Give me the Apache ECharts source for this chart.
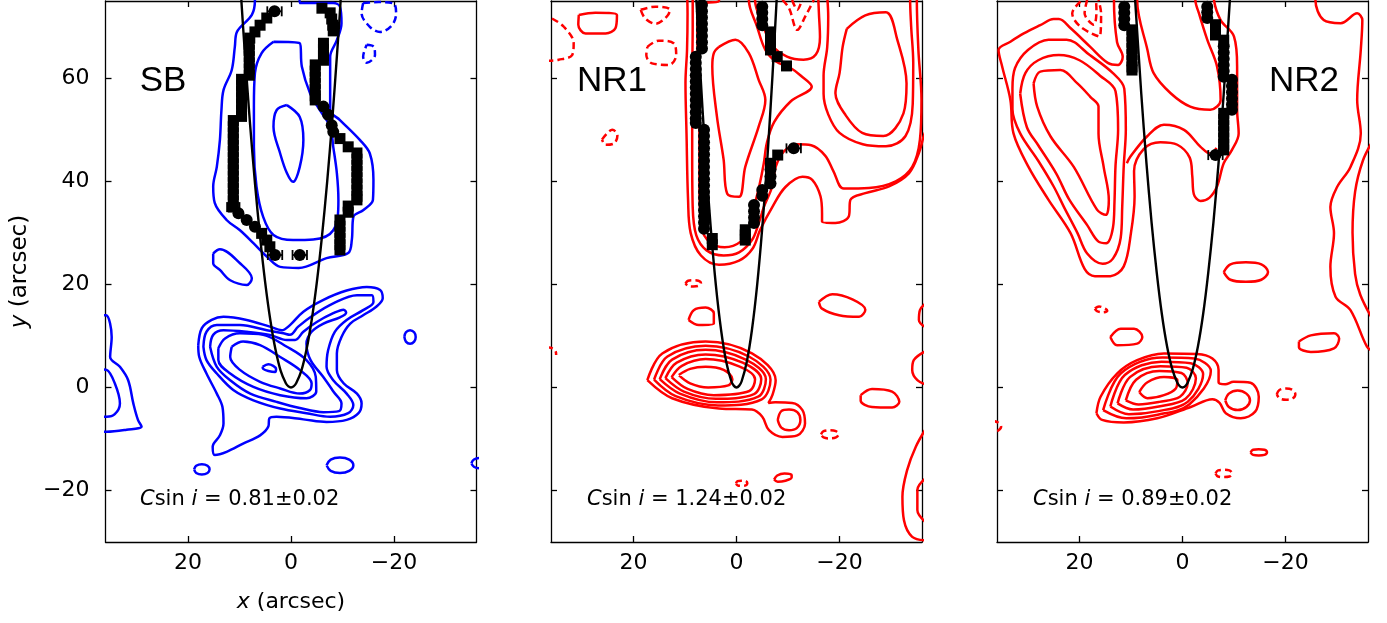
<!DOCTYPE html>
<html><head><meta charset="utf-8">
<script src="https://cdn.jsdelivr.net/npm/echarts@6/dist/echarts.min.js"></script>
<style>html,body{margin:0;padding:0;background:#fff}#c{width:1387px;height:623px}</style>
</head><body><div id="c"></div>
<script>
// ---------- tick values / labels ----------
const xTickVals = [20, 0, -20];
const yTickVals = [-20, 0, 20, 40, 60];
const panelNames = ['SB', 'NR1', 'NR2'];
const cSinIValues = ['0.81', '1.24', '0.89'];
const cSinIErr = '0.02';

// ---------- bow-shock curves ----------
const sbCurve = [[9.7,77],[9.6,74.6],[9,65.6],[8,51.8],[7,39.7],[6,29.2],[5,20.3],[4,13.0],[3,7.3],[2,3.2],[1,0.8],[0.5,0.2],[0,0],[-0.5,0.2],[-1,0.8],[-2,3.2],[-3,7.3],[-4,13.0],[-5,20.3],[-6,29.2],[-7,39.7],[-8,51.8],[-9,65.6],[-9.6,74.6],[-9.7,77]];
const nr1Curve = [[7.9,77],[7.8,75.4],[7,60.8],[6,44.6],[5,31.0],[4,19.8],[3,11.2],[2,5.0],[1,1.2],[0.5,0.3],[0,0],[-0.5,0.3],[-1,1.2],[-2,5.0],[-3,11.2],[-4,19.8],[-5,31.0],[-6,44.6],[-7,60.8],[-7.8,75.4],[-7.9,77]];
const nr2Curve = [[9.3,77],[9.2,75.3],[8,57.0],[7,43.6],[6,32.0],[5,22.3],[4,14.2],[3,8.0],[2,3.6],[1,0.9],[0.5,0.2],[0,0],[-0.5,0.2],[-1,0.9],[-2,3.6],[-3,8.0],[-4,14.2],[-5,22.3],[-6,32.0],[-7,43.6],[-8,57.0],[-9.2,75.3],[-9.3,77]];

// ---------- measured edge points ----------
const sbCircles = [[3.2,73.0],[3.1,25.7],[-1.7,25.7],[10.2,33.8],[8.6,32.5],[7.0,31.2],[-6.3,54.5],[-7.2,52.9],[-7.9,50.9],[-8.2,49.6]];
const sbSquares = [[4.7,71.7],[6.0,70.3],[7.0,69.0],[8.0,67.8],
  [8.1,66.6],[8.1,65.4],[8.1,64.2],[8.1,63.0],[8.1,61.8],[8.1,60.6],
  [9.6,59.8],[9.6,58.6],[9.6,57.4],[9.6,56.2],[9.6,55.0],[9.6,53.8],[9.6,52.6],
  [11.2,51.8],[11.2,50.6],[11.2,49.4],[11.2,48.2],[11.2,47.0],[11.2,45.8],[11.2,44.6],[11.2,43.4],[11.2,42.2],[11.2,41.0],[11.2,39.8],[11.2,38.6],[11.2,37.4],[11.2,36.2],[11.2,35.0],
  [5.7,29.9],[4.7,28.6],[4.1,27.3],
  [-6.0,73.6],[-7.6,72.7],[-7.9,71.5],[-8.1,70.3],[-8.2,69.2],
  [-6.3,66.8],[-6.3,65.6],[-6.3,64.4],[-6.3,63.5],
  [-4.7,62.6],[-4.7,61.4],[-4.7,60.2],[-4.7,59.0],[-4.7,57.8],[-4.7,56.6],[-4.7,55.8],
  [-9.5,48.3],[-11.1,46.7],
  [-12.8,45.5],[-12.8,44.3],[-12.8,43.1],[-12.8,41.9],[-12.8,40.7],[-12.8,39.5],[-12.8,38.3],[-12.8,37.1],[-12.8,36.4],
  [-11.1,35.2],[-11.1,34.0],
  [-9.5,32.5],[-9.5,31.3],[-9.5,30.1],[-9.5,28.9],[-9.5,27.7],[-9.5,26.7]];
const sbErrors = [[3.2,73.0,1.4],[3.1,25.7,1.4],[-1.7,25.7,1.4],[11.2,35.0,1.2]];

const nr1Circles = [[6.7,74.2],[6.7,73.0],[6.7,71.8],[6.7,70.6],[6.7,69.4],[6.7,68.2],[6.7,67.0],[6.7,65.8],
  [7.9,64.2],[7.9,63.0],[7.9,61.8],[7.9,60.6],[7.9,59.4],[7.9,58.2],[7.9,57.0],[7.9,55.8],[7.9,54.6],[7.9,53.4],[7.9,52.2],[7.9,51.3],
  [6.3,50.0],[6.3,48.8],[6.3,47.6],[6.3,46.4],[6.3,45.2],[6.3,44.0],[6.3,42.8],[6.3,41.6],[6.3,40.4],[6.3,39.2],[6.3,38.0],[6.3,36.8],[6.3,35.6],[6.3,34.4],[6.3,33.2],[6.3,32.0],[6.3,30.8],
  [-5.0,73.9],[-5.0,72.7],[-5.0,71.5],[-5.0,70.3],
  [-11.1,46.4],[-6.6,42.3],[-6.6,41.0],[-6.6,39.6],[-5.0,38.3],[-5.0,37.2],[-3.4,35.4],[-3.4,34.2],[-3.4,33.0],[-3.4,31.9]];
const nr1Squares = [[4.7,28.9],[4.7,27.7],[-6.6,69.0],[-6.6,67.8],[-6.6,66.6],[-6.6,65.5],[-7.9,64.2],[-9.7,62.4],[-8.0,45.1],[-6.6,43.5],[-1.7,30.6],[-1.7,29.6],[-1.7,28.6]];
const nr1Errors = [[-11.1,46.4,1.4]];

const nr2Circles = [[11.3,73.9],[11.3,72.7],[11.3,71.5],[11.3,70.3],
  [-4.8,73.9],[-4.8,72.8],[-4.8,71.7],
  [-8.0,66.2],[-8.0,65.0],[-8.0,63.8],[-8.0,62.6],[-8.0,61.4],[-8.0,60.3],
  [-9.6,59.7],[-9.6,58.5],[-9.6,57.3],[-9.6,56.1],[-9.6,54.9],[-9.6,53.9],
  [-6.4,45.1]];
const nr2Squares = [[9.8,69.4],[9.8,68.2],[9.8,67.0],[9.8,65.8],[9.8,64.6],[9.8,63.4],[9.8,62.2],[9.8,61.6],
  [-6.4,70.4],[-6.4,69.4],[-6.4,68.4],[-8.0,67.4],
  [-8.0,53.2],[-8.0,52.0],[-8.0,50.8],[-8.0,49.6],[-8.0,48.4],[-8.0,47.2],[-8.0,46.1]];
const nr2Errors = [[-6.4,45.1,1.4]];

// ---------- contours: SB (blue) ----------
const sbSolid = [
  [[7.0,77],[7.0,75.2],[7.6,72.3],[10.5,69],[10.9,66.1],[11.5,61.6],[13.1,57.7],[13.5,53.8],[13.8,48.0],[14.4,42.8],[15.1,39.0],[14.8,35.8],[12.5,32.5],[9.9,30.5],[7.3,28.0],[4.7,25.4],[2.1,23.4],[-1.5,23.2],[-6.9,25.1],[-11.1,26.1],[-11.8,28.6],[-12.1,33.1],[-14.0,34.4],[-15.9,36.4],[-16.0,40.3],[-15.3,45.4],[-13.4,48.0],[-9.5,51.9],[-7.6,53.8],[-7.6,59.0],[-7.6,64.2],[-8.9,67.4],[-9.8,70.7],[-9.5,73.9],[-8.2,74.6],[-1.7,74.6],[-1.6,77]],
  [[3.4,67.1],[-1.7,66.8],[-2.1,62.3],[-3.7,57.1],[-5.6,53.8],[-7.6,50.6],[-8.2,46.7],[-8.9,41.6],[-9.2,36.4],[-8.2,30.5],[-4.3,28.7],[-0.4,28.6],[3.4,29.6],[5.4,33.1],[6.7,39.0],[7.2,46.7],[7.2,54.5],[7.0,61.0],[5.7,64.9],[3.4,67.1]],
  [[0.8,54.8],[-1.7,52.5],[-2.4,48.0],[-1.7,42.8],[-0.4,39.9],[0.8,41.6],[2.1,45.4],[3.4,50.6],[2.8,53.8],[0.8,54.8]],
  [[15.1,26.0],[13.8,26.8],[9.9,24.1],[7.6,21.2],[8.6,19.9],[11.8,20.8],[13.8,22.8],[15.1,24.1],[15.1,26.0]],
  [[18.0,8.2],[17.3,11.5],[15.4,13.1],[13.1,13.7],[8.6,13.1],[4.1,11.8],[1.8,11.1],[0.2,12.1],[-2.4,14.7],[-6.3,17.0],[-10.8,18.8],[-14.7,19.5],[-17.3,18.9],[-17.8,17.3],[-16.6,15.7],[-14.0,14.0],[-11.5,12.4],[-9.8,9.8],[-8.9,6.6],[-8.9,3.4],[-10.2,0.8],[-12.8,-1.2],[-13.7,-3.1],[-13.1,-5.0],[-10.8,-6.3],[-6.9,-6.7],[-2.4,-6.2],[2.8,-5.7],[4.2,-6.0],[4.4,-7.6],[6.0,-9.3],[9.3,-10.9],[12.5,-12.5],[14.8,-13.1],[15.2,-11.5],[13.8,-9.3],[13.1,-7.0],[13.3,-3.8],[14.4,-1.2],[16.4,2.7],[17.8,5.9],[18.0,8.2]],
  [[17.0,7.9],[16.4,10.8],[14.4,12.1],[9.9,12.1],[4.7,11.1],[1.5,10.5],[0.2,10.2],[-1.4,11.8],[-4.3,14.0],[-8.2,16.3],[-12.8,17.9],[-15.7,17.9],[-16.0,16.6],[-14.0,15.0],[-10.8,13.1],[-8.5,10.8],[-7.2,7.2],[-6.9,4.0],[-8.2,1.4],[-10.8,-1.2],[-12.1,-3.4],[-11.1,-5.0],[-7.6,-5.7],[-3.0,-5.0],[2.1,-4.1],[7.3,-2.5],[11.2,-0.5],[14.4,2.7],[16.4,5.3],[17.0,7.9]],
  [[15.7,7.9],[15.1,10.2],[13.1,11.1],[8.6,10.8],[4.1,10.2],[0.8,9.2],[-0.8,9.2],[-2.4,10.8],[-5.0,12.7],[-8.2,14.4],[-10.2,15.1],[-10.7,14.5],[-9.5,13.6],[-6.3,12.4],[-4.0,10.8],[-3.0,8.5],[-3.8,5.3],[-6.2,2.1],[-8.3,-0.9],[-9.8,-3.1],[-9.3,-4.6],[-6.3,-4.8],[-1.7,-4.0],[2.8,-2.8],[7.9,-1.2],[11.8,1.4],[14.4,4.0],[15.7,7.9]],
  [[14.1,7.6],[12.8,9.5],[9.9,10.5],[5.4,10.2],[0.8,7.9],[-3.0,5.3],[-4.8,2.1],[-4.9,-0.8],[-3.0,-2.1],[2.1,-1.5],[7.3,0.1],[11.8,2.7],[14.1,5.3],[14.1,7.6]],
  [[11.5,7.9],[9.3,8.9],[6.0,8.2],[2.1,5.9],[-1.7,3.4],[-4.0,0.8],[-3.7,-0.5],[-1.7,-1.2],[2.1,-0.2],[6.0,1.1],[9.9,3.4],[11.8,5.9],[11.5,7.9]],
  [[5.5,4.0],[4.4,4.5],[2.9,3.6],[3.1,3.0],[4.4,3.2],[5.4,3.6],[5.5,4.0]],
  [[18.8,-15.9],[18.4,-15.2],[17.3,-14.9],[16.2,-15.2],[15.8,-15.9],[16.2,-16.6],[17.3,-16.9],[18.4,-16.6],[18.8,-15.9]],
  [[-6.9,-15.1],[-7.7,-14.0],[-9.5,-13.6],[-11.3,-14.0],[-12.1,-15.1],[-11.3,-16.2],[-9.5,-16.6],[-7.7,-16.2],[-6.9,-15.1]],
  [[-22.0,9.8],[-22.3,10.7],[-23.1,11.1],[-23.9,10.7],[-24.2,9.8],[-23.9,8.9],[-23.1,8.5],[-22.3,8.9],[-22.0,9.8]],
  [[-35.0,-14.7],[-35.5,-14.0],[-36.6,-13.7],[-37.7,-14.0],[-38.2,-14.7],[-37.7,-15.4],[-36.6,-15.7],[-35.5,-15.4],[-35.0,-14.7]],
  [[37,14.0],[35.9,14.0],[34.8,9.8],[35.1,5.9],[33.2,4.0],[31.6,1.4],[30.6,-3.1],[29.7,-6.3],[29.0,-7.6],[31.9,-8.2],[35.8,-8.6],[37,-8.6]],
  [[37,3.5],[35.8,3.4],[34.2,0.8],[33.2,-3.1],[34.2,-5.2],[35.8,-5.7],[37,-5.7]]
];
const sbDashed = [
  [[-14.0,74.6],[-13.7,72.6],[-15.3,70.0],[-17.3,69.0],[-19.6,70.3],[-20.4,72.6],[-19.9,74.5],[-17,74.8],[-14.0,74.6]],
  [[-14.7,66.5],[-16.1,66.1],[-16.3,64.5],[-14.7,63.0],[-14.0,64.2],[-14.7,66.5]]
];

// ---------- contours: NR1 (red) ----------
const nr1Solid = [
  // inner peaks
  [[3.4,66.1],[0.2,67.5],[-2.4,64.9],[-4.3,59.7],[-5.6,55.8],[-4.3,50.6],[-1.7,42.8],[-0.5,37.0],[1.8,37.6],[2.5,44.2],[3.8,52.6],[4.7,62.3],[4.4,64.9],[3.4,66.1]],
  [[-21.4,69.6],[-25.0,72.2],[-29.0,72.8],[-31.2,67.5],[-33.0,59.0],[-32.4,53.2],[-28.5,48.8],[-24.4,49.4],[-21.2,52.8],[-19.2,57.1],[-20.0,61.0],[-20.6,66.1],[-21.4,69.6]],
  // ridge around the western column, with the pointed tip toward the east
  [[3.4,77],[3.4,75.0],[6.0,74.6],[7.6,73.5],[7.6,68],[7.3,60],[7.2,50],[7.2,40],[6.8,31],[5.0,28.0],[2.3,27.2],[-0.8,28.3],[-2.4,31],[-3.4,35],[-4.4,39],[-5.3,43.5],[-5.9,47.5],[-7.3,51.5],[-10.5,55.5],[-14.6,58.4],[-12.5,60.5],[-10.5,62.0],[-7.6,63.3],[-5.6,65.5],[-4.0,70.0],[-2.4,75.2],[-2.4,77]],
  // ridge around the eastern peak
  [[-17.5,77],[-17.8,72],[-17.6,66],[-16.9,60.5],[-16.9,57],[-17.8,53],[-20.0,49.4],[-24.5,47.2],[-29.0,46.8],[-32.8,48.8],[-34.2,55],[-34.3,63],[-33.9,70],[-33.7,75.2],[-33.7,77]],
  // level around the negative notch
  [[-3.6,77],[-3.6,75.2],[-5.0,70.6],[-7.0,66.3],[-9.8,64.2],[-13.0,63.6],[-15.4,64.6],[-16.2,68],[-16.0,72.5],[-15.8,77]],
  // lower level (open to the top, both sides)
  [[8.5,77],[8.5,70],[8.6,60],[8.6,45],[8.5,35],[7.8,29.5],[5.8,26.6],[2.5,25.6],[-0.5,26.2],[-3.0,28.6],[-4.3,31.8],[-5.3,35.0],[-6.9,38.9],[-7.6,42.8],[-9.2,45.8],[-11.8,47.2],[-14.5,47.0],[-17.2,45.0],[-18.8,42.0],[-20.8,38.6],[-25.7,38.7],[-30.9,40.0],[-34.1,42.8],[-35.6,48.1],[-35.9,55.8],[-35.3,65.5],[-35.0,75.2],[-35.0,77]],
  // outermost level
  [[9.6,77],[9.5,72.6],[9.6,65.5],[9.9,59.1],[9.7,49.3],[9.4,36.4],[8.9,30.0],[6.9,25.6],[3.4,23.8],[-0.5,24.6],[-3.1,26.9],[-4.6,30.6],[-7.0,35.1],[-9.5,38.9],[-12.8,40.9],[-14.7,40.3],[-16.3,37.1],[-16.6,33.8],[-16.6,32.2],[-19.2,31.9],[-21.8,33.2],[-22.1,36.4],[-25.0,37.7],[-29.6,39.0],[-33.5,41.6],[-35.4,45.5],[-36.5,49.3],[-37,50]],
  [[30.6,72.3],[27.4,72.7],[23.2,72.3],[23.5,69.7],[25.4,68.7],[29.3,68.7],[30.7,70.4],[30.6,72.3]],
  // compact source
  [[17.3,1.4],[14.4,6.6],[6.0,8.9],[-3.0,6.6],[-7.6,1.4],[-7.0,-1.4],[-6.2,-3.0],[-7.5,-2.9],[-10.8,-3.0],[-12.8,-4.4],[-13.3,-7.0],[-11.8,-9.3],[-8.9,-9.6],[-6.3,-8.3],[-5.0,-5.7],[-3.0,-4.3],[3.4,-4.1],[12.5,-2.1],[17.3,1.4]],
  [[16.0,1.5],[13.4,6.0],[6.0,8.1],[-2.4,6.0],[-6.6,1.5],[-4.9,-2.3],[3.6,-3.5],[11.8,-1.7],[16.0,1.5]],
  [[14.9,1.6],[12.5,5.4],[6.0,7.3],[-1.8,5.4],[-5.7,1.6],[-4.2,-1.8],[3.8,-2.9],[11.0,-1.2],[14.9,1.6]],
  [[13.8,1.8],[11.6,4.8],[6.0,6.4],[-1.2,4.8],[-4.8,1.6],[-3.4,-1.3],[4.0,-2.2],[10.2,-0.8],[13.8,1.8]],
  [[12.6,2.0],[10.6,4.2],[6.0,5.5],[-0.5,4.1],[-3.6,1.6],[-2.5,-0.7],[4.4,-1.5],[9.5,-0.3],[12.6,2.0]],
  [[11.2,2.4],[9.0,3.6],[6.0,4.0],[2.5,3.4],[0.8,1.6],[1.6,0.4],[5.5,0.0],[9.0,0.8],[11.2,2.4]],
  [[-8.0,-6.3],[-8.7,-4.6],[-10.2,-4.3],[-11.8,-4.8],[-12.4,-6.3],[-11.7,-7.9],[-10.2,-8.3],[-8.7,-7.8],[-8.0,-6.3]],
  [[9.3,13.1],[8.3,15.0],[6.0,15.5],[4.4,14.4],[4.4,12.4],[7.3,12.1],[9.3,13.1]],
  [[-16.0,16.6],[-18.6,18.1],[-22.5,17.1],[-25.0,15.1],[-23.8,13.7],[-19.9,14.0],[-16.6,15.3],[-16.0,16.6]],
  [[-24.1,-1.5],[-26.3,-0.3],[-30.2,-0.8],[-31.6,-2.8],[-30.2,-3.9],[-26.3,-3.8],[-24.1,-2.6],[-24.1,-1.5]],
  [[-7.3,-17.9],[-7.9,-17.1],[-9.3,-16.7],[-10.7,-17.0],[-10.7,-17.5],[-9.5,-18.1],[-8.0,-18.3],[-7.3,-17.9]],
  [[-37,16.6],[-35.6,15.0],[-35.4,13.1],[-37,11.5]],
  [[-37,7.2],[-34.4,5.3],[-34.1,3.4],[-35.1,1.4],[-37,0.5]],
  [[-37,-7.6],[-34.8,-11.5],[-33.1,-16.1],[-32.2,-21.2],[-32.5,-25.8],[-34.1,-29.0],[-37,-29.7]],
  [[-37,-17.4],[-35.1,-19.9],[-35.1,-23.8],[-37,-26.4]]
];
const nr1Dashed = [
  [[18.6,73.3],[15.7,73.9],[12.9,73.3],[13.5,72.0],[15.7,70.6],[17.7,71.6],[18.6,73.3]],
  [[17.3,66.1],[15.1,67.3],[12.2,66.8],[11.7,64.5],[13.1,62.6],[16.4,62.9],[17.5,64.5],[17.3,66.1]],
  [[35.8,71.6],[33.5,70.0],[31.6,66.8],[31.9,64.5],[34.5,63.6],[37,63.4]],
  [[26.1,48.1],[24.1,50.0],[23.1,49.0],[23.7,47.4],[25.4,47.1],[26.1,48.1]],
  [[-8.9,75.2],[-10.2,73.6],[-11.8,69.4],[-13.4,72.1],[-15.0,75.2]],
  [[-10.8,75.2],[-11.8,73.3],[-12.7,75.2]],
  [[9.9,20.2],[9.4,20.7],[8.4,20.8],[7.4,20.7],[6.9,20.2],[7.4,19.7],[8.4,19.6],[9.4,19.7],[9.9,20.2]],
  [[-16.4,-9.1],[-16.9,-8.5],[-18.1,-8.3],[-19.3,-8.5],[-19.8,-9.1],[-19.3,-9.7],[-18.1,-9.9],[-16.9,-9.7],[-16.4,-9.1]],
  [[0.1,-18.6],[-0.2,-18.2],[-1.0,-18.1],[-1.8,-18.2],[-2.1,-18.6],[-1.8,-19.0],[-1.0,-19.1],[-0.2,-19.0],[0.1,-18.6]],
  [[37,7.8],[35.8,7.6],[35.1,7.0],[35.0,6.3]]
];

// ---------- contours: NR2 (red) ----------
const nr2Solid = [
  [[28.9,59.0],[27.6,61.3],[23.7,61.6],[20.4,59.0],[17.9,56.4],[16.3,54.5],[16.3,49.3],[15.3,42.8],[14.3,36.4],[14.9,33.5],[16.6,34.5],[21.1,42.8],[25.6,48.7],[28.2,54.5],[28.9,59.0]],
  [[31.5,57],[30.5,61],[28,63.5],[24,64.5],[20,63.5],[16,60.5],[13,57.5],[12.5,50],[13,43],[13.2,36],[13.5,31],[14.8,28],[16.3,28.3],[18.5,31.5],[22,36.5],[24.5,41.5],[28,47],[30.2,50.5],[31.5,57]],
  [[33,58],[32.5,62],[30,65.5],[26,67.5],[22.5,67.5],[18,64.5],[13.5,61],[11.3,58],[11,50],[11.4,43],[11.7,35],[12,29],[13.5,25],[15.5,24],[18.5,26],[20.4,30],[23,35],[25,39],[28,44],[31.5,49.3],[33,54],[33,58]],
  // outermost level: enters at top west of the chain, wraps the blob, crosses under, rises east of the chain
  [[13.3,77],[13.3,75.2],[12.7,67.0],[11.6,64.2],[12.5,62.6],[14.5,63.0],[17.9,66.1],[21.7,69.7],[24.0,71.5],[25.0,71.5],[27.6,70.3],[30.8,68.7],[33.4,67.1],[35.7,65.5],[35.0,62.3],[33.4,55.8],[32.8,49.3],[30,43],[26,36.4],[21.7,29.9],[19,23],[17,21.6],[14,21.6],[11.4,23.5],[10,30],[9.3,37],[9.4,42],[7.5,46.3],[4.3,47.6],[1.0,47.1],[-1.4,44.6],[-1.9,41.0],[-2.2,37.5],[-3.5,36.2],[-5.2,36.8],[-6.7,39.0],[-8.0,43.5],[-9.6,46.1],[-10.9,49.3],[-10.6,53.9],[-10.6,62.3],[-10.0,68.1],[-7.4,71.3],[-6.1,75.2],[-6.0,77]],
  [[10.8,43.5],[10.1,44.8],[6.9,48.7],[3.6,51.0],[-0.3,50.0],[-3.5,46.7],[-5.4,45.4],[-6.6,46.5]],
  [[8.8,77],[8.8,75.2],[6.8,65.5],[5.6,61.0],[2.3,57.1],[-1.5,54.5],[-5.4,53.9],[-7.4,55.8],[-6.7,62.3],[-4.8,67.5],[-3.2,72.6],[-2.5,75.2],[-2.5,77]],
  [[-25.8,77],[-25.8,75.2],[-27.4,71.3],[-30.7,70.7],[-33.9,72.6],[-34.9,71.3],[-34.6,65.5],[-33.9,55.8],[-34.6,49.3],[-32.6,42.8],[-30.0,38.9],[-28.7,35.0],[-29.4,29.9],[-28.7,23.4],[-29.7,17.6],[-32.6,15.0],[-35.8,7.9],[-37,7]],
  [[-37,48],[-35,44],[-33.5,38],[-33,30],[-33.5,22],[-34.5,18],[-37,13]],
  [[-8.0,22.4],[-9.3,23.9],[-12.3,24.3],[-15.3,23.9],[-16.6,22.4],[-15.3,20.9],[-12.3,20.5],[-9.3,20.9],[-8.0,22.4]],
  [[14.0,9.8],[12.0,11.4],[9.4,11.4],[7.8,9.8],[8.8,8.5],[12.7,8.2],[14.0,9.8]],
  [[-22.6,8.9],[-24.9,10.1],[-29.4,10.5],[-30.4,9.5],[-29.4,7.6],[-24.9,6.9],[-22.6,7.8],[-22.6,8.9]],
  [[8.4,-0.9],[6.8,1.0],[3.6,2.0],[1.0,1.4],[1.3,-0.2],[3.6,-1.5],[6.8,-2.1],[8.4,-0.9]],
  [[11.0,-2.5],[9.0,1.5],[4.5,3.2],[0.2,2.8],[-1.0,0.8],[0.5,-1.8],[4.5,-2.8],[8.5,-3.3],[11.0,-2.5]],
  [[12.6,-3.1],[10.2,2.0],[4.3,4.1],[-0.8,3.8],[-2.6,1.8],[-0.6,-2.2],[4.6,-3.7],[9.6,-4.3],[12.6,-3.1]],
  [[14.0,-3.7],[11.2,2.4],[4.1,5.0],[-1.6,4.7],[-4.0,2.6],[-1.0,-2.8],[4.7,-4.6],[10.4,-5.2],[14.0,-3.7]],
  [[15.4,-4.4],[12.0,2.7],[3.9,5.8],[-2.3,5.6],[-5.5,3.2],[-1.3,-3.3],[4.8,-5.3],[10.9,-6.0],[15.4,-4.4]],
  [[16.7,-5.0],[15.9,-1.8],[12.7,2.7],[8.8,5.3],[3.6,6.6],[-2.9,6.5],[-5.8,5.6],[-7.0,3.4],[-7.0,1.0],[-8.3,0.6],[-9.9,1.1],[-13.2,0.9],[-14.8,-1.8],[-14.1,-4.7],[-11.3,-6.0],[-8.4,-5.0],[-7.2,-3.0],[-5.8,-2.3],[-1.6,-3.8],[4.9,-6.0],[11.4,-6.8],[15.6,-6.3],[16.7,-5.0]],
  [[-8.3,-2.5],[-9.0,-1.2],[-10.7,-0.6],[-12.4,-1.2],[-13.1,-2.5],[-12.4,-3.8],[-10.7,-4.4],[-9.0,-3.8],[-8.3,-2.5]],
  [[-13.2,-12.6],[-13.7,-12.1],[-14.8,-12.0],[-15.9,-12.1],[-16.4,-12.6],[-15.9,-13.1],[-14.8,-13.2],[-13.7,-13.1],[-13.2,-12.6]]
];
const nr2Dashed = [
  [[19.8,74.9],[21.4,72.6],[19.8,70.0],[16.1,68.1],[15.8,72.6],[16.3,75.2]],
  [[18.5,75.2],[19.0,72.6],[17.2,70.4],[16.7,73.3],[16.8,75.2]],
  [[17.0,15.3],[16.2,15.7],[15.0,15.3],[14.6,14.9],[15.4,14.6],[16.6,14.8],[17.0,15.3]],
  [[-18.3,-1.3],[-18.8,-0.5],[-20.1,-0.2],[-21.4,-0.5],[-21.9,-1.3],[-21.4,-2.1],[-20.1,-2.4],[-18.8,-2.1],[-18.3,-1.3]],
  [[37,-6.5],[35.8,-6.8],[35.2,-7.6],[35.8,-8.4],[37,-8.6]],
  [[-6.4,-16.7],[-6.9,-16.1],[-8.0,-16.0],[-9.1,-16.1],[-9.6,-16.7],[-9.1,-17.3],[-8.0,-17.4],[-6.9,-17.3],[-6.4,-16.7]]
];

// ---------- build chart ----------
const panels = [
  {solid: sbSolid, dashed: sbDashed, color: '#0000ff', curve: sbCurve, circles: sbCircles, squares: sbSquares, errors: sbErrors},
  {solid: nr1Solid, dashed: nr1Dashed, color: '#ff0000', curve: nr1Curve, circles: nr1Circles, squares: nr1Squares, errors: nr1Errors},
  {solid: nr2Solid, dashed: nr2Dashed, color: '#ff0000', curve: nr2Curve, circles: nr2Circles, squares: nr2Squares, errors: nr2Errors}
];
const gridLefts = [105.5, 551, 997];
const FONT = 'Liberation Sans, Arial, sans-serif';
const TFONT = 'DejaVu Sans, sans-serif';
const fmt = v => v < 0 ? '\u2212' + Math.abs(v) : String(v);
const frame = {show: true, onZero: false, lineStyle: {color: '#000', width: 1.3}};
const grids = [], xAxes = [], yAxes = [], series = [];

panels.forEach((p, i) => {
  grids.push({left: gridLefts[i], top: 1, width: 371, height: 541, containLabel: false});
  const tickBase = {show: true, inside: true, length: 6, lineStyle: {color: '#000', width: 1.3}};
  xAxes.push({gridIndex: i, type: 'value', min: -36, max: 36, inverse: true, position: 'bottom',
    axisLine: frame, axisTick: Object.assign({customValues: xTickVals}, tickBase),
    axisLabel: {customValues: xTickVals, formatter: fmt, color: '#000', fontSize: 22, fontFamily: TFONT, margin: 10},
    splitLine: {show: false},
    name: i === 0 ? '{it|x} (arcsec)' : '', nameLocation: 'middle', nameGap: 49,
    nameTextStyle: {color: '#000', fontSize: 22, fontFamily: TFONT, rich: {it: {fontStyle: 'italic', fontSize: 22, fontFamily: TFONT, color: '#000'}}}});
  xAxes.push({gridIndex: i, type: 'value', min: -36, max: 36, inverse: true, position: 'top',
    axisLine: frame, axisTick: Object.assign({customValues: xTickVals}, tickBase),
    axisLabel: {show: false}, splitLine: {show: false}});
  yAxes.push({gridIndex: i, type: 'value', min: -30, max: 75, position: 'left',
    axisLine: frame, axisTick: Object.assign({customValues: yTickVals}, tickBase),
    axisLabel: {show: i === 0, customValues: yTickVals, formatter: fmt, color: '#000', fontSize: 22, fontFamily: TFONT, margin: 16},
    splitLine: {show: false},
    name: i === 0 ? '{it|y} (arcsec)' : '', nameLocation: 'middle', nameGap: 74, nameRotate: 90,
    nameTextStyle: {color: '#000', fontSize: 23, fontFamily: TFONT, rich: {it: {fontStyle: 'italic', fontSize: 23, fontFamily: TFONT, color: '#000'}}}});
  yAxes.push({gridIndex: i, type: 'value', min: -30, max: 75, position: 'right',
    axisLine: frame, axisTick: Object.assign({customValues: yTickVals}, tickBase),
    axisLabel: {show: false}, splitLine: {show: false}});

  const ax = {xAxisIndex: 2 * i, yAxisIndex: 2 * i};
  const addLines = (list, dashed) => list.forEach(pts => series.push(Object.assign({
    type: 'line', data: pts, smooth: 0.35, symbol: 'none', showSymbol: false, clip: true, silent: true,
    animation: false, z: 2, lineStyle: {color: p.color, width: 2.5, type: dashed ? [7, 4] : 'solid'}}, ax)));
  addLines(p.solid, false);
  addLines(p.dashed, true);
  series.push(Object.assign({type: 'custom', data: p.errors, z: 3, silent: true, animation: false, clip: true,
    renderItem: (params, api) => {
      const x = api.value(0), y = api.value(1), e = api.value(2);
      const a = api.coord([x - e, y]), b = api.coord([x + e, y]);
      const st = {stroke: '#000', lineWidth: 1.8};
      return {type: 'group', children: [
        {type: 'line', shape: {x1: a[0], y1: a[1], x2: b[0], y2: b[1]}, style: st},
        {type: 'line', shape: {x1: a[0], y1: a[1] - 5, x2: a[0], y2: a[1] + 5}, style: st},
        {type: 'line', shape: {x1: b[0], y1: b[1] - 5, x2: b[0], y2: b[1] + 5}, style: st}]};
    }}, ax));
  series.push(Object.assign({type: 'scatter', data: p.squares, symbol: 'rect', symbolSize: 11, z: 4, silent: true, animation: false,
    itemStyle: {color: '#000', opacity: 1}}, ax));
  series.push(Object.assign({type: 'scatter', data: p.circles, symbol: 'circle', symbolSize: 12, z: 4, silent: true, animation: false,
    itemStyle: {color: '#000', opacity: 1}}, ax));
  series.push(Object.assign({type: 'line', data: p.curve, smooth: 0.3, symbol: 'none', showSymbol: false, clip: true, silent: true,
    animation: false, z: 5, lineStyle: {color: '#000', width: 2.4}}, ax));
});

const nameCenters = [[163, 81], [612, 81], [1304, 81]];
const noteLefts = [140, 587, 1033];
const graphics = [];
panelNames.forEach((n, i) => {
  graphics.push({type: 'text', x: nameCenters[i][0], y: nameCenters[i][1], z: 10,
    style: {text: n, fill: '#000', fontSize: 35, fontFamily: FONT, align: 'center', verticalAlign: 'middle'}});
  graphics.push({type: 'text', x: noteLefts[i], y: 500, z: 10,
    style: {text: '{it|C}sin {it|i} = ' + cSinIValues[i] + '\u00b1' + cSinIErr, fill: '#000', fontSize: 21,
      fontFamily: 'DejaVu Sans', align: 'left', verticalAlign: 'middle',
      rich: {it: {fontStyle: 'italic', fontSize: 21, fontFamily: 'DejaVu Sans', fill: '#000'}}}});
});

const chart = echarts.init(document.getElementById('c'), null, {renderer: 'canvas'});
chart.setOption({animation: false, backgroundColor: '#fff', grid: grids, xAxis: xAxes, yAxis: yAxes, series: series, graphic: graphics});
</script></body></html>
